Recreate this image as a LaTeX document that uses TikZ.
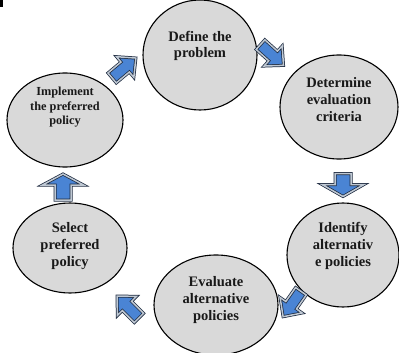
\documentclass[tikz,border=0pt]{standalone}
\usepackage{fontspec}
\setmainfont{Liberation Serif}
\usetikzlibrary{shapes.geometric}
\begin{document}
\begin{tikzpicture}[x=1pt,y=1pt]
  % colours of the cycle
  \definecolor{stagefill}{HTML}{D9D9D9}
  \definecolor{arrowblue}{HTML}{4A84D4}
  \definecolor{arrowline}{HTML}{1E2B40}
  \definecolor{arrowband}{HTML}{BFC8D3}
  \tikzset{
    stage/.style={ellipse, draw=black, line width=1.1pt, fill=stagefill,
      inner sep=0pt},
    stagetext/.style={align=center, text=black!90,
      font=\bfseries\fontsize{14.5}{16.8}\selectfont},
    arrowbody/.style={fill=arrowblue, draw=arrowline, line width=0.75pt,
      double=arrowband, double distance=1.5pt, line join=miter},
    arrow len/.store in=\arLen, arrow len=31,
    head width/.store in=\arHead, head width=27,
    shaft width/.store in=\arShaft, shaft width=13,
    head len/.store in=\arHeadLen, head len=14,
    flowarrow/.pic={
      \draw[arrowbody]
        (-\arLen/2,-\arShaft/2) -- (\arLen/2-\arHeadLen,-\arShaft/2)
        -- (\arLen/2-\arHeadLen,-\arHead/2) -- (\arLen/2,0)
        -- (\arLen/2-\arHeadLen,\arHead/2) -- (\arLen/2-\arHeadLen,\arShaft/2)
        -- (-\arLen/2,\arShaft/2) -- cycle;
    }
  }
  \useasboundingbox (0,0) rectangle (399,-353);
  \clip (0,0) rectangle (399,-353);

  % small mark in the top left corner
  \fill[black] (0,0) rectangle (3,-7);

  % the six stages
  \node[stage, minimum width=114, minimum height=110] (define) at (200,-55) {};
  \node[stage, minimum width=118, minimum height=104] (criteria) at (339,-107) {};
  \node[stage, minimum width=112, minimum height=104] (identify) at (343,-255) {};
  \node[stage, minimum width=124, minimum height=100] (evaluate) at (216,-305) {};
  \node[stage, minimum width=114, minimum height=90] (select) at (70,-248) {};
  \node[stage, minimum width=116, minimum height=94] (implement) at (65,-120) {};

  % stage labels
  \node[stagetext] (definetext) at ([yshift=9]define.center) {Define the\\problem};
  \node[stagetext] (criteriatext) at ([yshift=7.5]criteria.center) {Determine\\evaluation\\criteria};
  \node[stagetext] (identifytext) at ([yshift=9]identify.center) {Identify\\alternativ\\e policies};
  \node[stagetext] (evaluatetext) at ([yshift=5]evaluate.center) {Evaluate\\alternative\\policies};
  \node[stagetext] (selecttext) at ([yshift=2]select.center) {Select\\preferred\\policy};
  \node[stagetext, font=\bfseries\fontsize{12.3}{14.5}\selectfont] (implementtext)
    at ([yshift=12.5]implement.center) {Implement\\the preferred\\policy};

  % block arrows between the stages
  \pic[rotate=40] at (124,-68) {flowarrow};
  \pic[rotate=-42] at (272,-55) {flowarrow};
  \pic[rotate=-90, arrow len=23, head width=42, shaft width=16, head len=12]
    at (343,-185) {flowarrow};
  \pic[rotate=-125] at (292,-304) {flowarrow};
  \pic[rotate=135] at (128,-307) {flowarrow};
  \pic[rotate=90, arrow len=26, head width=41, shaft width=16, head len=11]
    at (63,-187) {flowarrow};
\end{tikzpicture}
\end{document}
